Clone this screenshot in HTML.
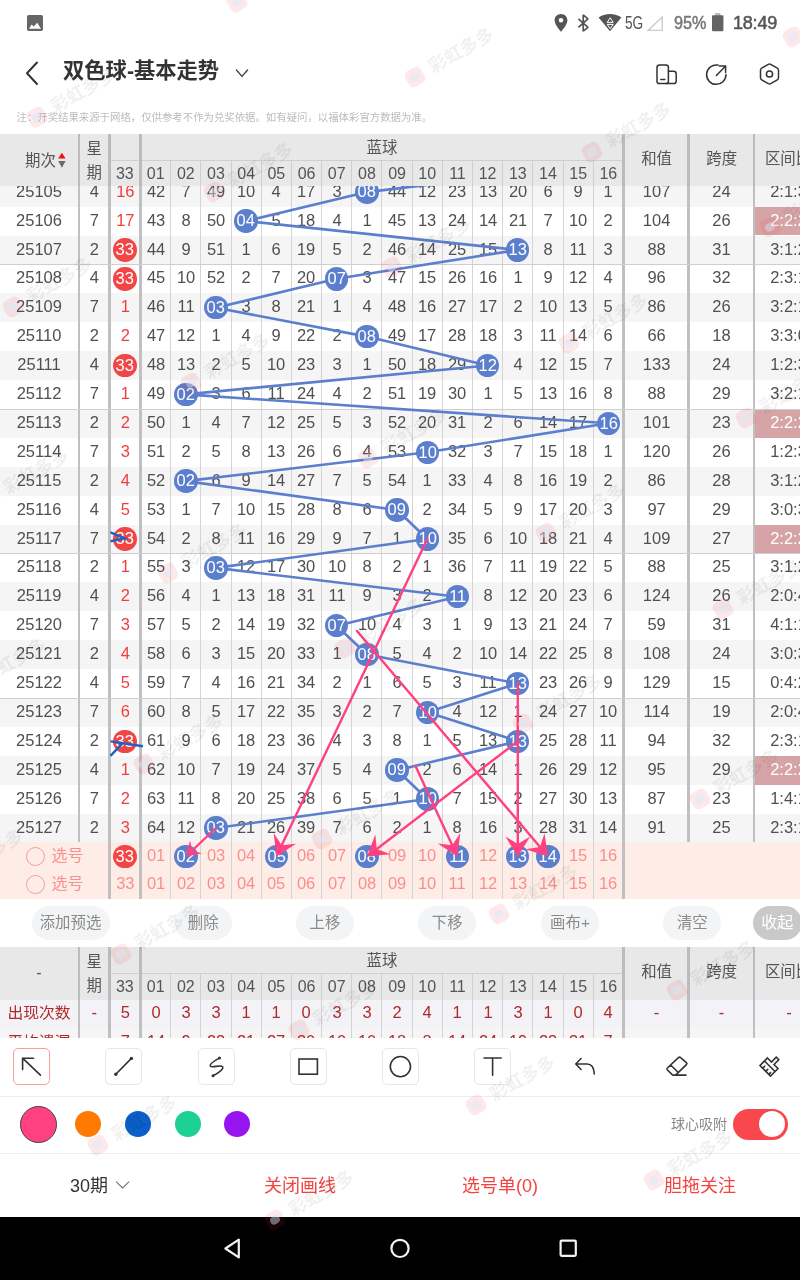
<!DOCTYPE html>
<html lang="zh-CN">
<head>
<meta charset="utf-8">
<title>双色球-基本走势</title>
<style>
html,body{margin:0;padding:0;}
body{width:800px;height:1280px;position:relative;overflow:hidden;background:#fff;
 font-family:"Liberation Sans","Noto Sans CJK SC",sans-serif;color:#555;-webkit-font-smoothing:antialiased;}
.abs{position:absolute;}
.t{position:absolute;white-space:nowrap;text-align:center;line-height:1;}
.c{position:absolute;white-space:nowrap;text-align:center;font-size:16px;line-height:28.9px;height:28.9px;color:#505050;transform:scaleX(1.03);}
.r{color:#f23d3d;}
.row{position:absolute;left:0;width:800px;height:28.9px;}
.g{background:#f5f5f5;}
.vl{position:absolute;width:2.6px;background:#c0c0c0;}
.tl{position:absolute;width:1px;background:#d4d4d4;}
.hl{position:absolute;height:1px;background:#cfcfcf;left:0;width:800px;}
.ball{position:absolute;width:23.4px;height:23.4px;margin:0.3px;border-radius:50%;color:#fff;font-size:16px;line-height:24px;text-align:center;}
.ball span{display:block;transform:scaleX(1.03);}
.bb{background:#5b7fcd;}
.rb{background:#f24545;}
.hd{position:absolute;background:#e8e8e8;}
.hc{position:absolute;white-space:nowrap;text-align:center;font-size:16px;color:#555;line-height:26px;height:26px;}
.hz{font-size:15.4px;}
.sel{color:#fa8f8f;}
.pill{position:absolute;height:34px;border-radius:17px;background:#f3f4f6;color:#8a8a8a;font-size:15.4px;line-height:34px;text-align:center;white-space:nowrap;}
.st{color:#b02a2a;}
.tool{position:absolute;width:35px;height:35px;border:1px solid #e6e6e6;border-radius:5px;top:1048px;}
.tab{position:absolute;top:1153.6px;height:64px;line-height:64px;font-size:18px;color:#f5433f;text-align:center;white-space:nowrap;}
.wm{position:absolute;height:22px;line-height:22px;white-space:nowrap;font-size:18px;font-weight:bold;color:rgba(0,0,0,0.06);transform:rotate(-29.7deg);transform-origin:9px 11px;padding-left:26.5px;}
.wm i{position:absolute;left:0;top:2px;width:18px;height:18px;border-radius:5px;background:rgba(240,40,40,0.10);}
.wm b{position:absolute;left:4px;top:6.5px;width:10px;height:8px;border-radius:4px;background:rgba(215,232,255,0.45);}
</style>
</head>
<body>

<div class="abs" style="left:0;top:0;width:800px;height:48px;background:#fff;"></div>
<svg class="abs" style="left:0;top:0" width="800" height="48" viewBox="0 0 800 48">
<rect x="27" y="15" width="16" height="16" rx="1.8" fill="#666"/>
<path d="M29 28.8 L31.6 24.6 L33.8 26.6 L37.2 22.8 L41 28.8 Z" fill="#fff"/>
<path d="M561 14 C557.4 14 554.6 16.8 554.6 20.3 C554.6 25 561 31.8 561 31.8 C561 31.8 567.4 25 567.4 20.3 C567.4 16.8 564.6 14 561 14 Z M561 22.6 A2.3 2.3 0 1 1 561 18 A2.3 2.3 0 1 1 561 22.6 Z" fill="#555" fill-rule="evenodd"/>
<path d="M578.4 18.8 L588 27.4 L583.2 31.2 L583.2 15 L588 18.8 L578.4 27.4" fill="none" stroke="#555" stroke-width="1.7" stroke-linejoin="bevel"/>
<path d="M610 31.2 L598.6 17.6 C601.6 15.2 605.6 14 610 14 C614.4 14 618.4 15.2 621.4 17.6 Z" fill="#555"/>
<path d="M610.2 17.8 L613.2 22.4 L607.2 22.4 Z M607.2 24.4 L613.2 24.4 L610.2 28.8 Z" fill="none" stroke="#fff" stroke-width="1"/>
<path d="M662.2 17 L662.2 30.4 L648 30.4 Z" fill="none" stroke="#ccc" stroke-width="1.4" stroke-linejoin="miter"/>
<rect x="715" y="13" width="5.4" height="3" fill="#bbb"/>
<rect x="712" y="15.2" width="11.4" height="16" rx="1" fill="#636363"/>
</svg>
<div class="t" style="left:624.6px;top:14px;font-size:18px;color:#555;transform:scaleX(0.76);transform-origin:0 0;">5G</div>
<div class="t" style="left:674px;top:14px;font-size:18px;color:#777;-webkit-text-stroke:0.5px #777;transform:scaleX(0.9);transform-origin:0 0;">95%</div>
<div class="t" style="left:733px;top:14px;font-size:18px;color:#555;-webkit-text-stroke:0.5px #555;letter-spacing:-0.2px;">18:49</div>
<svg class="abs" style="left:0;top:48px" width="800" height="52" viewBox="0 48 800 52">
<path d="M37 62.5 L27 73.2 L37 84" fill="none" stroke="#333" stroke-width="2" stroke-linecap="round" stroke-linejoin="round"/>
<path d="M236.4 70 L242 76.4 L247.6 70" fill="none" stroke="#444" stroke-width="1.4" stroke-linecap="round" stroke-linejoin="round"/>
<g fill="none" stroke="#333" stroke-width="1.5" stroke-linecap="round" stroke-linejoin="round">
<rect x="657" y="65" width="11.4" height="18.6" rx="2.4"/>
<path d="M668.4 71.2 L673.6 71.2 Q676.2 71.2 676.2 73.8 L676.2 81 Q676.2 83.6 673.6 83.6 L666 83.6"/>
<path d="M660.8 79.4 L664.8 79.4"/>
<path d="M718 65.1 A9.7 9.7 0 1 0 726 74.6"/>
<path d="M716.4 75.4 L725.4 66.2 M719.2 66 L725.6 66 L725.6 72.4"/>
<path d="M768.3 64.3 Q769.5 63.6 770.7 64.3 L777.3 68.1 Q778.5 68.8 778.5 70.2 L778.5 77.8 Q778.5 79.2 777.3 79.9 L770.7 83.7 Q769.5 84.4 768.3 83.7 L761.7 79.9 Q760.5 79.2 760.5 77.8 L760.5 70.2 Q760.5 68.8 761.7 68.1 Z"/>
<circle cx="769.5" cy="74" r="3.1"/>
</g>
</svg>
<div class="t" style="left:63px;top:61px;font-size:21.3px;font-weight:bold;color:#333;text-align:left;">双色球-基本走势</div>
<div class="t" style="left:16.5px;top:113px;font-size:10.4px;color:#bcbcbc;text-align:left;">注：开奖结果来源于网络，仅供参考不作为兑奖依据。如有疑问，以福体彩官方数据为准。</div>
<div class="abs" id="tbl" style="left:0;top:134px;width:800px;height:766px;overflow:hidden;">
<div class="row g" style="top:43.70px"></div>
<div class="row" style="top:72.60px"></div>
<div class="row g" style="top:101.50px"></div>
<div class="row" style="top:130.40px"></div>
<div class="row g" style="top:159.30px"></div>
<div class="row" style="top:188.20px"></div>
<div class="row g" style="top:217.10px"></div>
<div class="row" style="top:246.00px"></div>
<div class="row g" style="top:274.90px"></div>
<div class="row" style="top:303.80px"></div>
<div class="row g" style="top:332.70px"></div>
<div class="row" style="top:361.60px"></div>
<div class="row g" style="top:390.50px"></div>
<div class="row" style="top:419.40px"></div>
<div class="row g" style="top:448.30px"></div>
<div class="row" style="top:477.20px"></div>
<div class="row g" style="top:506.10px"></div>
<div class="row" style="top:535.00px"></div>
<div class="row g" style="top:563.90px"></div>
<div class="row" style="top:592.80px"></div>
<div class="row g" style="top:621.70px"></div>
<div class="row" style="top:650.60px"></div>
<div class="row g" style="top:679.50px"></div>
<div class="abs" style="left:0;top:708.40px;width:800px;height:56.40px;background:#feede7;"></div>
<div class="tl" style="left:170.23px;top:0;height:764.80px"></div>
<div class="tl" style="left:200.41px;top:0;height:764.80px"></div>
<div class="tl" style="left:230.59px;top:0;height:764.80px"></div>
<div class="tl" style="left:260.77px;top:0;height:764.80px"></div>
<div class="tl" style="left:290.95px;top:0;height:764.80px"></div>
<div class="tl" style="left:321.13px;top:0;height:764.80px"></div>
<div class="tl" style="left:351.31px;top:0;height:764.80px"></div>
<div class="tl" style="left:381.49px;top:0;height:764.80px"></div>
<div class="tl" style="left:411.67px;top:0;height:764.80px"></div>
<div class="tl" style="left:441.85px;top:0;height:764.80px"></div>
<div class="tl" style="left:472.03px;top:0;height:764.80px"></div>
<div class="tl" style="left:502.21px;top:0;height:764.80px"></div>
<div class="tl" style="left:532.39px;top:0;height:764.80px"></div>
<div class="tl" style="left:562.57px;top:0;height:764.80px"></div>
<div class="tl" style="left:592.75px;top:0;height:764.80px"></div>
<div class="vl" style="left:77.5px;top:0;height:708.40px"></div>
<div class="vl" style="left:108.0px;top:0;height:764.80px"></div>
<div class="vl" style="left:139.0px;top:0;height:764.80px"></div>
<div class="vl" style="left:622.2px;top:0;height:764.80px"></div>
<div class="vl" style="left:687.4px;top:0;height:708.40px"></div>
<div class="vl" style="left:752.8px;top:0;height:708.40px"></div>
<div class="c " style="left:0.00px;width:78.00px;top:43.70px">25105</div>
<div class="c " style="left:80.00px;width:28.50px;top:43.70px">4</div>
<div class="c r" style="left:110.50px;width:28.70px;top:43.70px">16</div>
<div class="c " style="left:140.55px;width:30.18px;top:43.70px">42</div>
<div class="c " style="left:170.73px;width:30.18px;top:43.70px">7</div>
<div class="c " style="left:200.91px;width:30.18px;top:43.70px">49</div>
<div class="c " style="left:231.09px;width:30.18px;top:43.70px">10</div>
<div class="c " style="left:261.27px;width:30.18px;top:43.70px">4</div>
<div class="c " style="left:291.45px;width:30.18px;top:43.70px">17</div>
<div class="c " style="left:321.63px;width:30.18px;top:43.70px">3</div>
<div class="c " style="left:381.99px;width:30.18px;top:43.70px">44</div>
<div class="c " style="left:412.17px;width:30.18px;top:43.70px">12</div>
<div class="c " style="left:442.35px;width:30.18px;top:43.70px">23</div>
<div class="c " style="left:472.53px;width:30.18px;top:43.70px">13</div>
<div class="c " style="left:502.71px;width:30.18px;top:43.70px">20</div>
<div class="c " style="left:532.89px;width:30.18px;top:43.70px">6</div>
<div class="c " style="left:563.07px;width:30.18px;top:43.70px">9</div>
<div class="c " style="left:593.25px;width:30.18px;top:43.70px">1</div>
<div class="c " style="left:625.00px;width:63.20px;top:43.70px">107</div>
<div class="c " style="left:690.20px;width:63.00px;top:43.70px">24</div>
<div class="c " style="left:755.40px;width:67.00px;top:43.70px">2:1:3</div>
<div class="c " style="left:0.00px;width:78.00px;top:72.60px">25106</div>
<div class="c " style="left:80.00px;width:28.50px;top:72.60px">7</div>
<div class="c r" style="left:110.50px;width:28.70px;top:72.60px">17</div>
<div class="c " style="left:140.55px;width:30.18px;top:72.60px">43</div>
<div class="c " style="left:170.73px;width:30.18px;top:72.60px">8</div>
<div class="c " style="left:200.91px;width:30.18px;top:72.60px">50</div>
<div class="c " style="left:261.27px;width:30.18px;top:72.60px">5</div>
<div class="c " style="left:291.45px;width:30.18px;top:72.60px">18</div>
<div class="c " style="left:321.63px;width:30.18px;top:72.60px">4</div>
<div class="c " style="left:351.81px;width:30.18px;top:72.60px">1</div>
<div class="c " style="left:381.99px;width:30.18px;top:72.60px">45</div>
<div class="c " style="left:412.17px;width:30.18px;top:72.60px">13</div>
<div class="c " style="left:442.35px;width:30.18px;top:72.60px">24</div>
<div class="c " style="left:472.53px;width:30.18px;top:72.60px">14</div>
<div class="c " style="left:502.71px;width:30.18px;top:72.60px">21</div>
<div class="c " style="left:532.89px;width:30.18px;top:72.60px">7</div>
<div class="c " style="left:563.07px;width:30.18px;top:72.60px">10</div>
<div class="c " style="left:593.25px;width:30.18px;top:72.60px">2</div>
<div class="c " style="left:625.00px;width:63.20px;top:72.60px">104</div>
<div class="c " style="left:690.20px;width:63.00px;top:72.60px">26</div>
<div class="abs" style="left:755.2px;top:72.60px;width:50px;height:28.90px;background:#d6a4a6;"></div>
<div class="c" style="color:#fff;left:755.40px;width:67.00px;top:72.60px">2:2:2</div>
<div class="c " style="left:0.00px;width:78.00px;top:101.50px">25107</div>
<div class="c " style="left:80.00px;width:28.50px;top:101.50px">2</div>
<div class="c " style="left:140.55px;width:30.18px;top:101.50px">44</div>
<div class="c " style="left:170.73px;width:30.18px;top:101.50px">9</div>
<div class="c " style="left:200.91px;width:30.18px;top:101.50px">51</div>
<div class="c " style="left:231.09px;width:30.18px;top:101.50px">1</div>
<div class="c " style="left:261.27px;width:30.18px;top:101.50px">6</div>
<div class="c " style="left:291.45px;width:30.18px;top:101.50px">19</div>
<div class="c " style="left:321.63px;width:30.18px;top:101.50px">5</div>
<div class="c " style="left:351.81px;width:30.18px;top:101.50px">2</div>
<div class="c " style="left:381.99px;width:30.18px;top:101.50px">46</div>
<div class="c " style="left:412.17px;width:30.18px;top:101.50px">14</div>
<div class="c " style="left:442.35px;width:30.18px;top:101.50px">25</div>
<div class="c " style="left:472.53px;width:30.18px;top:101.50px">15</div>
<div class="c " style="left:532.89px;width:30.18px;top:101.50px">8</div>
<div class="c " style="left:563.07px;width:30.18px;top:101.50px">11</div>
<div class="c " style="left:593.25px;width:30.18px;top:101.50px">3</div>
<div class="c " style="left:625.00px;width:63.20px;top:101.50px">88</div>
<div class="c " style="left:690.20px;width:63.00px;top:101.50px">31</div>
<div class="c " style="left:755.40px;width:67.00px;top:101.50px">3:1:2</div>
<div class="c " style="left:0.00px;width:78.00px;top:130.40px">25108</div>
<div class="c " style="left:80.00px;width:28.50px;top:130.40px">4</div>
<div class="c " style="left:140.55px;width:30.18px;top:130.40px">45</div>
<div class="c " style="left:170.73px;width:30.18px;top:130.40px">10</div>
<div class="c " style="left:200.91px;width:30.18px;top:130.40px">52</div>
<div class="c " style="left:231.09px;width:30.18px;top:130.40px">2</div>
<div class="c " style="left:261.27px;width:30.18px;top:130.40px">7</div>
<div class="c " style="left:291.45px;width:30.18px;top:130.40px">20</div>
<div class="c " style="left:351.81px;width:30.18px;top:130.40px">3</div>
<div class="c " style="left:381.99px;width:30.18px;top:130.40px">47</div>
<div class="c " style="left:412.17px;width:30.18px;top:130.40px">15</div>
<div class="c " style="left:442.35px;width:30.18px;top:130.40px">26</div>
<div class="c " style="left:472.53px;width:30.18px;top:130.40px">16</div>
<div class="c " style="left:502.71px;width:30.18px;top:130.40px">1</div>
<div class="c " style="left:532.89px;width:30.18px;top:130.40px">9</div>
<div class="c " style="left:563.07px;width:30.18px;top:130.40px">12</div>
<div class="c " style="left:593.25px;width:30.18px;top:130.40px">4</div>
<div class="c " style="left:625.00px;width:63.20px;top:130.40px">96</div>
<div class="c " style="left:690.20px;width:63.00px;top:130.40px">32</div>
<div class="c " style="left:755.40px;width:67.00px;top:130.40px">2:3:1</div>
<div class="c " style="left:0.00px;width:78.00px;top:159.30px">25109</div>
<div class="c " style="left:80.00px;width:28.50px;top:159.30px">7</div>
<div class="c r" style="left:110.50px;width:28.70px;top:159.30px">1</div>
<div class="c " style="left:140.55px;width:30.18px;top:159.30px">46</div>
<div class="c " style="left:170.73px;width:30.18px;top:159.30px">11</div>
<div class="c " style="left:231.09px;width:30.18px;top:159.30px">3</div>
<div class="c " style="left:261.27px;width:30.18px;top:159.30px">8</div>
<div class="c " style="left:291.45px;width:30.18px;top:159.30px">21</div>
<div class="c " style="left:321.63px;width:30.18px;top:159.30px">1</div>
<div class="c " style="left:351.81px;width:30.18px;top:159.30px">4</div>
<div class="c " style="left:381.99px;width:30.18px;top:159.30px">48</div>
<div class="c " style="left:412.17px;width:30.18px;top:159.30px">16</div>
<div class="c " style="left:442.35px;width:30.18px;top:159.30px">27</div>
<div class="c " style="left:472.53px;width:30.18px;top:159.30px">17</div>
<div class="c " style="left:502.71px;width:30.18px;top:159.30px">2</div>
<div class="c " style="left:532.89px;width:30.18px;top:159.30px">10</div>
<div class="c " style="left:563.07px;width:30.18px;top:159.30px">13</div>
<div class="c " style="left:593.25px;width:30.18px;top:159.30px">5</div>
<div class="c " style="left:625.00px;width:63.20px;top:159.30px">86</div>
<div class="c " style="left:690.20px;width:63.00px;top:159.30px">26</div>
<div class="c " style="left:755.40px;width:67.00px;top:159.30px">3:2:1</div>
<div class="c " style="left:0.00px;width:78.00px;top:188.20px">25110</div>
<div class="c " style="left:80.00px;width:28.50px;top:188.20px">2</div>
<div class="c r" style="left:110.50px;width:28.70px;top:188.20px">2</div>
<div class="c " style="left:140.55px;width:30.18px;top:188.20px">47</div>
<div class="c " style="left:170.73px;width:30.18px;top:188.20px">12</div>
<div class="c " style="left:200.91px;width:30.18px;top:188.20px">1</div>
<div class="c " style="left:231.09px;width:30.18px;top:188.20px">4</div>
<div class="c " style="left:261.27px;width:30.18px;top:188.20px">9</div>
<div class="c " style="left:291.45px;width:30.18px;top:188.20px">22</div>
<div class="c " style="left:321.63px;width:30.18px;top:188.20px">2</div>
<div class="c " style="left:381.99px;width:30.18px;top:188.20px">49</div>
<div class="c " style="left:412.17px;width:30.18px;top:188.20px">17</div>
<div class="c " style="left:442.35px;width:30.18px;top:188.20px">28</div>
<div class="c " style="left:472.53px;width:30.18px;top:188.20px">18</div>
<div class="c " style="left:502.71px;width:30.18px;top:188.20px">3</div>
<div class="c " style="left:532.89px;width:30.18px;top:188.20px">11</div>
<div class="c " style="left:563.07px;width:30.18px;top:188.20px">14</div>
<div class="c " style="left:593.25px;width:30.18px;top:188.20px">6</div>
<div class="c " style="left:625.00px;width:63.20px;top:188.20px">66</div>
<div class="c " style="left:690.20px;width:63.00px;top:188.20px">18</div>
<div class="c " style="left:755.40px;width:67.00px;top:188.20px">3:3:0</div>
<div class="c " style="left:0.00px;width:78.00px;top:217.10px">25111</div>
<div class="c " style="left:80.00px;width:28.50px;top:217.10px">4</div>
<div class="c " style="left:140.55px;width:30.18px;top:217.10px">48</div>
<div class="c " style="left:170.73px;width:30.18px;top:217.10px">13</div>
<div class="c " style="left:200.91px;width:30.18px;top:217.10px">2</div>
<div class="c " style="left:231.09px;width:30.18px;top:217.10px">5</div>
<div class="c " style="left:261.27px;width:30.18px;top:217.10px">10</div>
<div class="c " style="left:291.45px;width:30.18px;top:217.10px">23</div>
<div class="c " style="left:321.63px;width:30.18px;top:217.10px">3</div>
<div class="c " style="left:351.81px;width:30.18px;top:217.10px">1</div>
<div class="c " style="left:381.99px;width:30.18px;top:217.10px">50</div>
<div class="c " style="left:412.17px;width:30.18px;top:217.10px">18</div>
<div class="c " style="left:442.35px;width:30.18px;top:217.10px">29</div>
<div class="c " style="left:502.71px;width:30.18px;top:217.10px">4</div>
<div class="c " style="left:532.89px;width:30.18px;top:217.10px">12</div>
<div class="c " style="left:563.07px;width:30.18px;top:217.10px">15</div>
<div class="c " style="left:593.25px;width:30.18px;top:217.10px">7</div>
<div class="c " style="left:625.00px;width:63.20px;top:217.10px">133</div>
<div class="c " style="left:690.20px;width:63.00px;top:217.10px">24</div>
<div class="c " style="left:755.40px;width:67.00px;top:217.10px">1:2:3</div>
<div class="c " style="left:0.00px;width:78.00px;top:246.00px">25112</div>
<div class="c " style="left:80.00px;width:28.50px;top:246.00px">7</div>
<div class="c r" style="left:110.50px;width:28.70px;top:246.00px">1</div>
<div class="c " style="left:140.55px;width:30.18px;top:246.00px">49</div>
<div class="c " style="left:200.91px;width:30.18px;top:246.00px">3</div>
<div class="c " style="left:231.09px;width:30.18px;top:246.00px">6</div>
<div class="c " style="left:261.27px;width:30.18px;top:246.00px">11</div>
<div class="c " style="left:291.45px;width:30.18px;top:246.00px">24</div>
<div class="c " style="left:321.63px;width:30.18px;top:246.00px">4</div>
<div class="c " style="left:351.81px;width:30.18px;top:246.00px">2</div>
<div class="c " style="left:381.99px;width:30.18px;top:246.00px">51</div>
<div class="c " style="left:412.17px;width:30.18px;top:246.00px">19</div>
<div class="c " style="left:442.35px;width:30.18px;top:246.00px">30</div>
<div class="c " style="left:472.53px;width:30.18px;top:246.00px">1</div>
<div class="c " style="left:502.71px;width:30.18px;top:246.00px">5</div>
<div class="c " style="left:532.89px;width:30.18px;top:246.00px">13</div>
<div class="c " style="left:563.07px;width:30.18px;top:246.00px">16</div>
<div class="c " style="left:593.25px;width:30.18px;top:246.00px">8</div>
<div class="c " style="left:625.00px;width:63.20px;top:246.00px">88</div>
<div class="c " style="left:690.20px;width:63.00px;top:246.00px">29</div>
<div class="c " style="left:755.40px;width:67.00px;top:246.00px">3:2:1</div>
<div class="c " style="left:0.00px;width:78.00px;top:274.90px">25113</div>
<div class="c " style="left:80.00px;width:28.50px;top:274.90px">2</div>
<div class="c r" style="left:110.50px;width:28.70px;top:274.90px">2</div>
<div class="c " style="left:140.55px;width:30.18px;top:274.90px">50</div>
<div class="c " style="left:170.73px;width:30.18px;top:274.90px">1</div>
<div class="c " style="left:200.91px;width:30.18px;top:274.90px">4</div>
<div class="c " style="left:231.09px;width:30.18px;top:274.90px">7</div>
<div class="c " style="left:261.27px;width:30.18px;top:274.90px">12</div>
<div class="c " style="left:291.45px;width:30.18px;top:274.90px">25</div>
<div class="c " style="left:321.63px;width:30.18px;top:274.90px">5</div>
<div class="c " style="left:351.81px;width:30.18px;top:274.90px">3</div>
<div class="c " style="left:381.99px;width:30.18px;top:274.90px">52</div>
<div class="c " style="left:412.17px;width:30.18px;top:274.90px">20</div>
<div class="c " style="left:442.35px;width:30.18px;top:274.90px">31</div>
<div class="c " style="left:472.53px;width:30.18px;top:274.90px">2</div>
<div class="c " style="left:502.71px;width:30.18px;top:274.90px">6</div>
<div class="c " style="left:532.89px;width:30.18px;top:274.90px">14</div>
<div class="c " style="left:563.07px;width:30.18px;top:274.90px">17</div>
<div class="c " style="left:625.00px;width:63.20px;top:274.90px">101</div>
<div class="c " style="left:690.20px;width:63.00px;top:274.90px">23</div>
<div class="abs" style="left:755.2px;top:274.90px;width:50px;height:28.90px;background:#d6a4a6;"></div>
<div class="c" style="color:#fff;left:755.40px;width:67.00px;top:274.90px">2:2:2</div>
<div class="c " style="left:0.00px;width:78.00px;top:303.80px">25114</div>
<div class="c " style="left:80.00px;width:28.50px;top:303.80px">7</div>
<div class="c r" style="left:110.50px;width:28.70px;top:303.80px">3</div>
<div class="c " style="left:140.55px;width:30.18px;top:303.80px">51</div>
<div class="c " style="left:170.73px;width:30.18px;top:303.80px">2</div>
<div class="c " style="left:200.91px;width:30.18px;top:303.80px">5</div>
<div class="c " style="left:231.09px;width:30.18px;top:303.80px">8</div>
<div class="c " style="left:261.27px;width:30.18px;top:303.80px">13</div>
<div class="c " style="left:291.45px;width:30.18px;top:303.80px">26</div>
<div class="c " style="left:321.63px;width:30.18px;top:303.80px">6</div>
<div class="c " style="left:351.81px;width:30.18px;top:303.80px">4</div>
<div class="c " style="left:381.99px;width:30.18px;top:303.80px">53</div>
<div class="c " style="left:442.35px;width:30.18px;top:303.80px">32</div>
<div class="c " style="left:472.53px;width:30.18px;top:303.80px">3</div>
<div class="c " style="left:502.71px;width:30.18px;top:303.80px">7</div>
<div class="c " style="left:532.89px;width:30.18px;top:303.80px">15</div>
<div class="c " style="left:563.07px;width:30.18px;top:303.80px">18</div>
<div class="c " style="left:593.25px;width:30.18px;top:303.80px">1</div>
<div class="c " style="left:625.00px;width:63.20px;top:303.80px">120</div>
<div class="c " style="left:690.20px;width:63.00px;top:303.80px">26</div>
<div class="c " style="left:755.40px;width:67.00px;top:303.80px">1:2:3</div>
<div class="c " style="left:0.00px;width:78.00px;top:332.70px">25115</div>
<div class="c " style="left:80.00px;width:28.50px;top:332.70px">2</div>
<div class="c r" style="left:110.50px;width:28.70px;top:332.70px">4</div>
<div class="c " style="left:140.55px;width:30.18px;top:332.70px">52</div>
<div class="c " style="left:200.91px;width:30.18px;top:332.70px">6</div>
<div class="c " style="left:231.09px;width:30.18px;top:332.70px">9</div>
<div class="c " style="left:261.27px;width:30.18px;top:332.70px">14</div>
<div class="c " style="left:291.45px;width:30.18px;top:332.70px">27</div>
<div class="c " style="left:321.63px;width:30.18px;top:332.70px">7</div>
<div class="c " style="left:351.81px;width:30.18px;top:332.70px">5</div>
<div class="c " style="left:381.99px;width:30.18px;top:332.70px">54</div>
<div class="c " style="left:412.17px;width:30.18px;top:332.70px">1</div>
<div class="c " style="left:442.35px;width:30.18px;top:332.70px">33</div>
<div class="c " style="left:472.53px;width:30.18px;top:332.70px">4</div>
<div class="c " style="left:502.71px;width:30.18px;top:332.70px">8</div>
<div class="c " style="left:532.89px;width:30.18px;top:332.70px">16</div>
<div class="c " style="left:563.07px;width:30.18px;top:332.70px">19</div>
<div class="c " style="left:593.25px;width:30.18px;top:332.70px">2</div>
<div class="c " style="left:625.00px;width:63.20px;top:332.70px">86</div>
<div class="c " style="left:690.20px;width:63.00px;top:332.70px">28</div>
<div class="c " style="left:755.40px;width:67.00px;top:332.70px">3:1:2</div>
<div class="c " style="left:0.00px;width:78.00px;top:361.60px">25116</div>
<div class="c " style="left:80.00px;width:28.50px;top:361.60px">4</div>
<div class="c r" style="left:110.50px;width:28.70px;top:361.60px">5</div>
<div class="c " style="left:140.55px;width:30.18px;top:361.60px">53</div>
<div class="c " style="left:170.73px;width:30.18px;top:361.60px">1</div>
<div class="c " style="left:200.91px;width:30.18px;top:361.60px">7</div>
<div class="c " style="left:231.09px;width:30.18px;top:361.60px">10</div>
<div class="c " style="left:261.27px;width:30.18px;top:361.60px">15</div>
<div class="c " style="left:291.45px;width:30.18px;top:361.60px">28</div>
<div class="c " style="left:321.63px;width:30.18px;top:361.60px">8</div>
<div class="c " style="left:351.81px;width:30.18px;top:361.60px">6</div>
<div class="c " style="left:412.17px;width:30.18px;top:361.60px">2</div>
<div class="c " style="left:442.35px;width:30.18px;top:361.60px">34</div>
<div class="c " style="left:472.53px;width:30.18px;top:361.60px">5</div>
<div class="c " style="left:502.71px;width:30.18px;top:361.60px">9</div>
<div class="c " style="left:532.89px;width:30.18px;top:361.60px">17</div>
<div class="c " style="left:563.07px;width:30.18px;top:361.60px">20</div>
<div class="c " style="left:593.25px;width:30.18px;top:361.60px">3</div>
<div class="c " style="left:625.00px;width:63.20px;top:361.60px">97</div>
<div class="c " style="left:690.20px;width:63.00px;top:361.60px">29</div>
<div class="c " style="left:755.40px;width:67.00px;top:361.60px">3:0:3</div>
<div class="c " style="left:0.00px;width:78.00px;top:390.50px">25117</div>
<div class="c " style="left:80.00px;width:28.50px;top:390.50px">7</div>
<div class="c " style="left:140.55px;width:30.18px;top:390.50px">54</div>
<div class="c " style="left:170.73px;width:30.18px;top:390.50px">2</div>
<div class="c " style="left:200.91px;width:30.18px;top:390.50px">8</div>
<div class="c " style="left:231.09px;width:30.18px;top:390.50px">11</div>
<div class="c " style="left:261.27px;width:30.18px;top:390.50px">16</div>
<div class="c " style="left:291.45px;width:30.18px;top:390.50px">29</div>
<div class="c " style="left:321.63px;width:30.18px;top:390.50px">9</div>
<div class="c " style="left:351.81px;width:30.18px;top:390.50px">7</div>
<div class="c " style="left:381.99px;width:30.18px;top:390.50px">1</div>
<div class="c " style="left:442.35px;width:30.18px;top:390.50px">35</div>
<div class="c " style="left:472.53px;width:30.18px;top:390.50px">6</div>
<div class="c " style="left:502.71px;width:30.18px;top:390.50px">10</div>
<div class="c " style="left:532.89px;width:30.18px;top:390.50px">18</div>
<div class="c " style="left:563.07px;width:30.18px;top:390.50px">21</div>
<div class="c " style="left:593.25px;width:30.18px;top:390.50px">4</div>
<div class="c " style="left:625.00px;width:63.20px;top:390.50px">109</div>
<div class="c " style="left:690.20px;width:63.00px;top:390.50px">27</div>
<div class="abs" style="left:755.2px;top:390.50px;width:50px;height:28.90px;background:#d6a4a6;"></div>
<div class="c" style="color:#fff;left:755.40px;width:67.00px;top:390.50px">2:2:2</div>
<div class="c " style="left:0.00px;width:78.00px;top:419.40px">25118</div>
<div class="c " style="left:80.00px;width:28.50px;top:419.40px">2</div>
<div class="c r" style="left:110.50px;width:28.70px;top:419.40px">1</div>
<div class="c " style="left:140.55px;width:30.18px;top:419.40px">55</div>
<div class="c " style="left:170.73px;width:30.18px;top:419.40px">3</div>
<div class="c " style="left:231.09px;width:30.18px;top:419.40px">12</div>
<div class="c " style="left:261.27px;width:30.18px;top:419.40px">17</div>
<div class="c " style="left:291.45px;width:30.18px;top:419.40px">30</div>
<div class="c " style="left:321.63px;width:30.18px;top:419.40px">10</div>
<div class="c " style="left:351.81px;width:30.18px;top:419.40px">8</div>
<div class="c " style="left:381.99px;width:30.18px;top:419.40px">2</div>
<div class="c " style="left:412.17px;width:30.18px;top:419.40px">1</div>
<div class="c " style="left:442.35px;width:30.18px;top:419.40px">36</div>
<div class="c " style="left:472.53px;width:30.18px;top:419.40px">7</div>
<div class="c " style="left:502.71px;width:30.18px;top:419.40px">11</div>
<div class="c " style="left:532.89px;width:30.18px;top:419.40px">19</div>
<div class="c " style="left:563.07px;width:30.18px;top:419.40px">22</div>
<div class="c " style="left:593.25px;width:30.18px;top:419.40px">5</div>
<div class="c " style="left:625.00px;width:63.20px;top:419.40px">88</div>
<div class="c " style="left:690.20px;width:63.00px;top:419.40px">25</div>
<div class="c " style="left:755.40px;width:67.00px;top:419.40px">3:1:2</div>
<div class="c " style="left:0.00px;width:78.00px;top:448.30px">25119</div>
<div class="c " style="left:80.00px;width:28.50px;top:448.30px">4</div>
<div class="c r" style="left:110.50px;width:28.70px;top:448.30px">2</div>
<div class="c " style="left:140.55px;width:30.18px;top:448.30px">56</div>
<div class="c " style="left:170.73px;width:30.18px;top:448.30px">4</div>
<div class="c " style="left:200.91px;width:30.18px;top:448.30px">1</div>
<div class="c " style="left:231.09px;width:30.18px;top:448.30px">13</div>
<div class="c " style="left:261.27px;width:30.18px;top:448.30px">18</div>
<div class="c " style="left:291.45px;width:30.18px;top:448.30px">31</div>
<div class="c " style="left:321.63px;width:30.18px;top:448.30px">11</div>
<div class="c " style="left:351.81px;width:30.18px;top:448.30px">9</div>
<div class="c " style="left:381.99px;width:30.18px;top:448.30px">3</div>
<div class="c " style="left:412.17px;width:30.18px;top:448.30px">2</div>
<div class="c " style="left:472.53px;width:30.18px;top:448.30px">8</div>
<div class="c " style="left:502.71px;width:30.18px;top:448.30px">12</div>
<div class="c " style="left:532.89px;width:30.18px;top:448.30px">20</div>
<div class="c " style="left:563.07px;width:30.18px;top:448.30px">23</div>
<div class="c " style="left:593.25px;width:30.18px;top:448.30px">6</div>
<div class="c " style="left:625.00px;width:63.20px;top:448.30px">124</div>
<div class="c " style="left:690.20px;width:63.00px;top:448.30px">26</div>
<div class="c " style="left:755.40px;width:67.00px;top:448.30px">2:0:4</div>
<div class="c " style="left:0.00px;width:78.00px;top:477.20px">25120</div>
<div class="c " style="left:80.00px;width:28.50px;top:477.20px">7</div>
<div class="c r" style="left:110.50px;width:28.70px;top:477.20px">3</div>
<div class="c " style="left:140.55px;width:30.18px;top:477.20px">57</div>
<div class="c " style="left:170.73px;width:30.18px;top:477.20px">5</div>
<div class="c " style="left:200.91px;width:30.18px;top:477.20px">2</div>
<div class="c " style="left:231.09px;width:30.18px;top:477.20px">14</div>
<div class="c " style="left:261.27px;width:30.18px;top:477.20px">19</div>
<div class="c " style="left:291.45px;width:30.18px;top:477.20px">32</div>
<div class="c " style="left:351.81px;width:30.18px;top:477.20px">10</div>
<div class="c " style="left:381.99px;width:30.18px;top:477.20px">4</div>
<div class="c " style="left:412.17px;width:30.18px;top:477.20px">3</div>
<div class="c " style="left:442.35px;width:30.18px;top:477.20px">1</div>
<div class="c " style="left:472.53px;width:30.18px;top:477.20px">9</div>
<div class="c " style="left:502.71px;width:30.18px;top:477.20px">13</div>
<div class="c " style="left:532.89px;width:30.18px;top:477.20px">21</div>
<div class="c " style="left:563.07px;width:30.18px;top:477.20px">24</div>
<div class="c " style="left:593.25px;width:30.18px;top:477.20px">7</div>
<div class="c " style="left:625.00px;width:63.20px;top:477.20px">59</div>
<div class="c " style="left:690.20px;width:63.00px;top:477.20px">31</div>
<div class="c " style="left:755.40px;width:67.00px;top:477.20px">4:1:1</div>
<div class="c " style="left:0.00px;width:78.00px;top:506.10px">25121</div>
<div class="c " style="left:80.00px;width:28.50px;top:506.10px">2</div>
<div class="c r" style="left:110.50px;width:28.70px;top:506.10px">4</div>
<div class="c " style="left:140.55px;width:30.18px;top:506.10px">58</div>
<div class="c " style="left:170.73px;width:30.18px;top:506.10px">6</div>
<div class="c " style="left:200.91px;width:30.18px;top:506.10px">3</div>
<div class="c " style="left:231.09px;width:30.18px;top:506.10px">15</div>
<div class="c " style="left:261.27px;width:30.18px;top:506.10px">20</div>
<div class="c " style="left:291.45px;width:30.18px;top:506.10px">33</div>
<div class="c " style="left:321.63px;width:30.18px;top:506.10px">1</div>
<div class="c " style="left:381.99px;width:30.18px;top:506.10px">5</div>
<div class="c " style="left:412.17px;width:30.18px;top:506.10px">4</div>
<div class="c " style="left:442.35px;width:30.18px;top:506.10px">2</div>
<div class="c " style="left:472.53px;width:30.18px;top:506.10px">10</div>
<div class="c " style="left:502.71px;width:30.18px;top:506.10px">14</div>
<div class="c " style="left:532.89px;width:30.18px;top:506.10px">22</div>
<div class="c " style="left:563.07px;width:30.18px;top:506.10px">25</div>
<div class="c " style="left:593.25px;width:30.18px;top:506.10px">8</div>
<div class="c " style="left:625.00px;width:63.20px;top:506.10px">108</div>
<div class="c " style="left:690.20px;width:63.00px;top:506.10px">24</div>
<div class="c " style="left:755.40px;width:67.00px;top:506.10px">3:0:3</div>
<div class="c " style="left:0.00px;width:78.00px;top:535.00px">25122</div>
<div class="c " style="left:80.00px;width:28.50px;top:535.00px">4</div>
<div class="c r" style="left:110.50px;width:28.70px;top:535.00px">5</div>
<div class="c " style="left:140.55px;width:30.18px;top:535.00px">59</div>
<div class="c " style="left:170.73px;width:30.18px;top:535.00px">7</div>
<div class="c " style="left:200.91px;width:30.18px;top:535.00px">4</div>
<div class="c " style="left:231.09px;width:30.18px;top:535.00px">16</div>
<div class="c " style="left:261.27px;width:30.18px;top:535.00px">21</div>
<div class="c " style="left:291.45px;width:30.18px;top:535.00px">34</div>
<div class="c " style="left:321.63px;width:30.18px;top:535.00px">2</div>
<div class="c " style="left:351.81px;width:30.18px;top:535.00px">1</div>
<div class="c " style="left:381.99px;width:30.18px;top:535.00px">6</div>
<div class="c " style="left:412.17px;width:30.18px;top:535.00px">5</div>
<div class="c " style="left:442.35px;width:30.18px;top:535.00px">3</div>
<div class="c " style="left:472.53px;width:30.18px;top:535.00px">11</div>
<div class="c " style="left:532.89px;width:30.18px;top:535.00px">23</div>
<div class="c " style="left:563.07px;width:30.18px;top:535.00px">26</div>
<div class="c " style="left:593.25px;width:30.18px;top:535.00px">9</div>
<div class="c " style="left:625.00px;width:63.20px;top:535.00px">129</div>
<div class="c " style="left:690.20px;width:63.00px;top:535.00px">15</div>
<div class="c " style="left:755.40px;width:67.00px;top:535.00px">0:4:2</div>
<div class="c " style="left:0.00px;width:78.00px;top:563.90px">25123</div>
<div class="c " style="left:80.00px;width:28.50px;top:563.90px">7</div>
<div class="c r" style="left:110.50px;width:28.70px;top:563.90px">6</div>
<div class="c " style="left:140.55px;width:30.18px;top:563.90px">60</div>
<div class="c " style="left:170.73px;width:30.18px;top:563.90px">8</div>
<div class="c " style="left:200.91px;width:30.18px;top:563.90px">5</div>
<div class="c " style="left:231.09px;width:30.18px;top:563.90px">17</div>
<div class="c " style="left:261.27px;width:30.18px;top:563.90px">22</div>
<div class="c " style="left:291.45px;width:30.18px;top:563.90px">35</div>
<div class="c " style="left:321.63px;width:30.18px;top:563.90px">3</div>
<div class="c " style="left:351.81px;width:30.18px;top:563.90px">2</div>
<div class="c " style="left:381.99px;width:30.18px;top:563.90px">7</div>
<div class="c " style="left:442.35px;width:30.18px;top:563.90px">4</div>
<div class="c " style="left:472.53px;width:30.18px;top:563.90px">12</div>
<div class="c " style="left:502.71px;width:30.18px;top:563.90px">1</div>
<div class="c " style="left:532.89px;width:30.18px;top:563.90px">24</div>
<div class="c " style="left:563.07px;width:30.18px;top:563.90px">27</div>
<div class="c " style="left:593.25px;width:30.18px;top:563.90px">10</div>
<div class="c " style="left:625.00px;width:63.20px;top:563.90px">114</div>
<div class="c " style="left:690.20px;width:63.00px;top:563.90px">19</div>
<div class="c " style="left:755.40px;width:67.00px;top:563.90px">2:0:4</div>
<div class="c " style="left:0.00px;width:78.00px;top:592.80px">25124</div>
<div class="c " style="left:80.00px;width:28.50px;top:592.80px">2</div>
<div class="c " style="left:140.55px;width:30.18px;top:592.80px">61</div>
<div class="c " style="left:170.73px;width:30.18px;top:592.80px">9</div>
<div class="c " style="left:200.91px;width:30.18px;top:592.80px">6</div>
<div class="c " style="left:231.09px;width:30.18px;top:592.80px">18</div>
<div class="c " style="left:261.27px;width:30.18px;top:592.80px">23</div>
<div class="c " style="left:291.45px;width:30.18px;top:592.80px">36</div>
<div class="c " style="left:321.63px;width:30.18px;top:592.80px">4</div>
<div class="c " style="left:351.81px;width:30.18px;top:592.80px">3</div>
<div class="c " style="left:381.99px;width:30.18px;top:592.80px">8</div>
<div class="c " style="left:412.17px;width:30.18px;top:592.80px">1</div>
<div class="c " style="left:442.35px;width:30.18px;top:592.80px">5</div>
<div class="c " style="left:472.53px;width:30.18px;top:592.80px">13</div>
<div class="c " style="left:532.89px;width:30.18px;top:592.80px">25</div>
<div class="c " style="left:563.07px;width:30.18px;top:592.80px">28</div>
<div class="c " style="left:593.25px;width:30.18px;top:592.80px">11</div>
<div class="c " style="left:625.00px;width:63.20px;top:592.80px">94</div>
<div class="c " style="left:690.20px;width:63.00px;top:592.80px">32</div>
<div class="c " style="left:755.40px;width:67.00px;top:592.80px">2:3:1</div>
<div class="c " style="left:0.00px;width:78.00px;top:621.70px">25125</div>
<div class="c " style="left:80.00px;width:28.50px;top:621.70px">4</div>
<div class="c r" style="left:110.50px;width:28.70px;top:621.70px">1</div>
<div class="c " style="left:140.55px;width:30.18px;top:621.70px">62</div>
<div class="c " style="left:170.73px;width:30.18px;top:621.70px">10</div>
<div class="c " style="left:200.91px;width:30.18px;top:621.70px">7</div>
<div class="c " style="left:231.09px;width:30.18px;top:621.70px">19</div>
<div class="c " style="left:261.27px;width:30.18px;top:621.70px">24</div>
<div class="c " style="left:291.45px;width:30.18px;top:621.70px">37</div>
<div class="c " style="left:321.63px;width:30.18px;top:621.70px">5</div>
<div class="c " style="left:351.81px;width:30.18px;top:621.70px">4</div>
<div class="c " style="left:412.17px;width:30.18px;top:621.70px">2</div>
<div class="c " style="left:442.35px;width:30.18px;top:621.70px">6</div>
<div class="c " style="left:472.53px;width:30.18px;top:621.70px">14</div>
<div class="c " style="left:502.71px;width:30.18px;top:621.70px">1</div>
<div class="c " style="left:532.89px;width:30.18px;top:621.70px">26</div>
<div class="c " style="left:563.07px;width:30.18px;top:621.70px">29</div>
<div class="c " style="left:593.25px;width:30.18px;top:621.70px">12</div>
<div class="c " style="left:625.00px;width:63.20px;top:621.70px">95</div>
<div class="c " style="left:690.20px;width:63.00px;top:621.70px">29</div>
<div class="abs" style="left:755.2px;top:621.70px;width:50px;height:28.90px;background:#d6a4a6;"></div>
<div class="c" style="color:#fff;left:755.40px;width:67.00px;top:621.70px">2:2:2</div>
<div class="c " style="left:0.00px;width:78.00px;top:650.60px">25126</div>
<div class="c " style="left:80.00px;width:28.50px;top:650.60px">7</div>
<div class="c r" style="left:110.50px;width:28.70px;top:650.60px">2</div>
<div class="c " style="left:140.55px;width:30.18px;top:650.60px">63</div>
<div class="c " style="left:170.73px;width:30.18px;top:650.60px">11</div>
<div class="c " style="left:200.91px;width:30.18px;top:650.60px">8</div>
<div class="c " style="left:231.09px;width:30.18px;top:650.60px">20</div>
<div class="c " style="left:261.27px;width:30.18px;top:650.60px">25</div>
<div class="c " style="left:291.45px;width:30.18px;top:650.60px">38</div>
<div class="c " style="left:321.63px;width:30.18px;top:650.60px">6</div>
<div class="c " style="left:351.81px;width:30.18px;top:650.60px">5</div>
<div class="c " style="left:381.99px;width:30.18px;top:650.60px">1</div>
<div class="c " style="left:442.35px;width:30.18px;top:650.60px">7</div>
<div class="c " style="left:472.53px;width:30.18px;top:650.60px">15</div>
<div class="c " style="left:502.71px;width:30.18px;top:650.60px">2</div>
<div class="c " style="left:532.89px;width:30.18px;top:650.60px">27</div>
<div class="c " style="left:563.07px;width:30.18px;top:650.60px">30</div>
<div class="c " style="left:593.25px;width:30.18px;top:650.60px">13</div>
<div class="c " style="left:625.00px;width:63.20px;top:650.60px">87</div>
<div class="c " style="left:690.20px;width:63.00px;top:650.60px">23</div>
<div class="c " style="left:755.40px;width:67.00px;top:650.60px">1:4:1</div>
<div class="c " style="left:0.00px;width:78.00px;top:679.50px">25127</div>
<div class="c " style="left:80.00px;width:28.50px;top:679.50px">2</div>
<div class="c r" style="left:110.50px;width:28.70px;top:679.50px">3</div>
<div class="c " style="left:140.55px;width:30.18px;top:679.50px">64</div>
<div class="c " style="left:170.73px;width:30.18px;top:679.50px">12</div>
<div class="c " style="left:231.09px;width:30.18px;top:679.50px">21</div>
<div class="c " style="left:261.27px;width:30.18px;top:679.50px">26</div>
<div class="c " style="left:291.45px;width:30.18px;top:679.50px">39</div>
<div class="c " style="left:321.63px;width:30.18px;top:679.50px">7</div>
<div class="c " style="left:351.81px;width:30.18px;top:679.50px">6</div>
<div class="c " style="left:381.99px;width:30.18px;top:679.50px">2</div>
<div class="c " style="left:412.17px;width:30.18px;top:679.50px">1</div>
<div class="c " style="left:442.35px;width:30.18px;top:679.50px">8</div>
<div class="c " style="left:472.53px;width:30.18px;top:679.50px">16</div>
<div class="c " style="left:502.71px;width:30.18px;top:679.50px">3</div>
<div class="c " style="left:532.89px;width:30.18px;top:679.50px">28</div>
<div class="c " style="left:563.07px;width:30.18px;top:679.50px">31</div>
<div class="c " style="left:593.25px;width:30.18px;top:679.50px">14</div>
<div class="c " style="left:625.00px;width:63.20px;top:679.50px">91</div>
<div class="c " style="left:690.20px;width:63.00px;top:679.50px">25</div>
<div class="c " style="left:755.40px;width:67.00px;top:679.50px">2:3:1</div>
<div class="hl" style="top:130.40px"></div>
<div class="hl" style="top:274.90px"></div>
<div class="hl" style="top:419.40px"></div>
<div class="hl" style="top:563.90px"></div>
<div class="abs" style="left:25.6px;top:712.60px;width:17px;height:17px;border:1.4px solid #fb9a9a;border-radius:50%;"></div>
<div class="c sel" style="left:52px;width:31px;top:708.05px;font-size:15.5px">选号</div>
<div class="c sel" style="left:140.55px;width:30.18px;top:708.05px">01</div>
<div class="c sel" style="left:200.91px;width:30.18px;top:708.05px">03</div>
<div class="c sel" style="left:231.09px;width:30.18px;top:708.05px">04</div>
<div class="c sel" style="left:291.45px;width:30.18px;top:708.05px">06</div>
<div class="c sel" style="left:321.63px;width:30.18px;top:708.05px">07</div>
<div class="c sel" style="left:381.99px;width:30.18px;top:708.05px">09</div>
<div class="c sel" style="left:412.17px;width:30.18px;top:708.05px">10</div>
<div class="c sel" style="left:472.53px;width:30.18px;top:708.05px">12</div>
<div class="c sel" style="left:563.07px;width:30.18px;top:708.05px">15</div>
<div class="c sel" style="left:593.25px;width:30.18px;top:708.05px">16</div>
<div class="abs" style="left:25.6px;top:740.80px;width:17px;height:17px;border:1.4px solid #fb9a9a;border-radius:50%;"></div>
<div class="c sel" style="left:52px;width:31px;top:736.25px;font-size:15.5px">选号</div>
<div class="c sel" style="left:110.50px;width:28.70px;top:736.25px">33</div>
<div class="c sel" style="left:140.55px;width:30.18px;top:736.25px">01</div>
<div class="c sel" style="left:170.73px;width:30.18px;top:736.25px">02</div>
<div class="c sel" style="left:200.91px;width:30.18px;top:736.25px">03</div>
<div class="c sel" style="left:231.09px;width:30.18px;top:736.25px">04</div>
<div class="c sel" style="left:261.27px;width:30.18px;top:736.25px">05</div>
<div class="c sel" style="left:291.45px;width:30.18px;top:736.25px">06</div>
<div class="c sel" style="left:321.63px;width:30.18px;top:736.25px">07</div>
<div class="c sel" style="left:351.81px;width:30.18px;top:736.25px">08</div>
<div class="c sel" style="left:381.99px;width:30.18px;top:736.25px">09</div>
<div class="c sel" style="left:412.17px;width:30.18px;top:736.25px">10</div>
<div class="c sel" style="left:442.35px;width:30.18px;top:736.25px">11</div>
<div class="c sel" style="left:472.53px;width:30.18px;top:736.25px">12</div>
<div class="c sel" style="left:502.71px;width:30.18px;top:736.25px">13</div>
<div class="c sel" style="left:532.89px;width:30.18px;top:736.25px">14</div>
<div class="c sel" style="left:563.07px;width:30.18px;top:736.25px">15</div>
<div class="c sel" style="left:593.25px;width:30.18px;top:736.25px">16</div>
<svg class="abs" style="left:0;top:0" width="800" height="766" viewBox="0 134 800 766">
<path d="M608.3 163.2 L366.9 192.1 L246.2 221.0 L517.8 249.9 L336.7 278.8 L216.0 307.7 L366.9 336.6 L487.6 365.5 L185.8 394.4 L608.3 423.3 L427.3 452.2 L185.8 481.1 L397.1 510.0 L427.3 539.0 L216.0 567.9 L457.4 596.8 L336.7 625.7 L366.9 654.5 L517.8 683.5 L427.3 712.3 L517.8 741.2 L397.1 770.2 L427.3 799.0 L216.0 828.0" fill="none" stroke="#5b7fcd" stroke-width="2.6" stroke-linejoin="round" stroke-linecap="round"/>
</svg>
<div class="ball bb" style="left:354.90px;top:46.15px"><span>08</span></div>
<div class="ball bb" style="left:234.18px;top:75.05px"><span>04</span></div>
<div class="ball rb" style="left:113.00px;top:103.95px"><span>33</span></div>
<div class="ball bb" style="left:505.80px;top:103.95px"><span>13</span></div>
<div class="ball rb" style="left:113.00px;top:132.85px"><span>33</span></div>
<div class="ball bb" style="left:324.72px;top:132.85px"><span>07</span></div>
<div class="ball bb" style="left:204.00px;top:161.75px"><span>03</span></div>
<div class="ball bb" style="left:354.90px;top:190.65px"><span>08</span></div>
<div class="ball rb" style="left:113.00px;top:219.55px"><span>33</span></div>
<div class="ball bb" style="left:475.62px;top:219.55px"><span>12</span></div>
<div class="ball bb" style="left:173.82px;top:248.45px"><span>02</span></div>
<div class="ball bb" style="left:596.34px;top:277.35px"><span>16</span></div>
<div class="ball bb" style="left:415.26px;top:306.25px"><span>10</span></div>
<div class="ball bb" style="left:173.82px;top:335.15px"><span>02</span></div>
<div class="ball bb" style="left:385.08px;top:364.05px"><span>09</span></div>
<div class="ball rb" style="left:113.00px;top:392.95px"><span>33</span></div>
<div class="ball bb" style="left:415.26px;top:392.95px"><span>10</span></div>
<div class="ball bb" style="left:204.00px;top:421.85px"><span>03</span></div>
<div class="ball bb" style="left:445.44px;top:450.75px"><span>11</span></div>
<div class="ball bb" style="left:324.72px;top:479.65px"><span>07</span></div>
<div class="ball bb" style="left:354.90px;top:508.55px"><span>08</span></div>
<div class="ball bb" style="left:505.80px;top:537.45px"><span>13</span></div>
<div class="ball bb" style="left:415.26px;top:566.35px"><span>10</span></div>
<div class="ball rb" style="left:113.00px;top:595.25px"><span>33</span></div>
<div class="ball bb" style="left:505.80px;top:595.25px"><span>13</span></div>
<div class="ball bb" style="left:385.08px;top:624.15px"><span>09</span></div>
<div class="ball bb" style="left:415.26px;top:653.05px"><span>10</span></div>
<div class="ball bb" style="left:204.00px;top:681.95px"><span>03</span></div>
<div class="ball rb" style="left:113.00px;top:710.50px"><span>33</span></div>
<div class="ball bb" style="left:173.82px;top:710.50px"><span>02</span></div>
<div class="ball bb" style="left:264.36px;top:710.50px"><span>05</span></div>
<div class="ball bb" style="left:354.90px;top:710.50px"><span>08</span></div>
<div class="ball bb" style="left:445.44px;top:710.50px"><span>11</span></div>
<div class="ball bb" style="left:505.80px;top:710.50px"><span>13</span></div>
<div class="ball bb" style="left:535.98px;top:710.50px"><span>14</span></div>
<svg class="abs" style="left:0;top:0" width="800" height="766" viewBox="0 134 800 766">
<g fill="none" stroke="#1565c8" stroke-width="2.4" stroke-linecap="butt">
<path d="M110.5 532.4 L124.8 538.4 L110.5 541.2"/>
<path d="M110.5 741.4 L143 746.2"/>
<path d="M110.5 755.8 L122.4 743.4"/>
</g>
<path d="M427.3 539.0 L281.7 845.3" stroke="#ff4081" stroke-width="2.4" fill="none" stroke-linecap="round"/>
<path d="M276.4 856.5 L273.7 833.1 L281.7 845.3 L296.1 843.8 Z" fill="#ff4081"/>
<path d="M357.0 631.0 L540.0 847.0" stroke="#ff4081" stroke-width="2.4" fill="none" stroke-linecap="round"/>
<path d="M548.0 856.5 L525.6 849.3 L540.0 847.0 L544.5 833.2 Z" fill="#ff4081"/>
<path d="M517.8 683.5 L517.8 844.1" stroke="#ff4081" stroke-width="2.4" fill="none" stroke-linecap="round"/>
<path d="M517.8 856.5 L505.4 836.5 L517.8 844.1 L530.2 836.5 Z" fill="#ff4081"/>
<path d="M517.8 741.2 L376.8 849.0" stroke="#ff4081" stroke-width="2.4" fill="none" stroke-linecap="round"/>
<path d="M366.9 856.5 L375.3 834.5 L376.8 849.0 L390.3 854.2 Z" fill="#ff4081"/>
<path d="M415.5 766.0 L452.2 845.2" stroke="#ff4081" stroke-width="2.4" fill="none" stroke-linecap="round"/>
<path d="M457.4 856.5 L437.8 843.6 L452.2 845.2 L460.3 833.1 Z" fill="#ff4081"/>
<path d="M216.0 828.0 L192.2 850.5" stroke="#ff4081" stroke-width="2.4" fill="none" stroke-linecap="round"/>
<path d="M185.8 856.5 L190.1 840.4 L192.2 850.5 L202.1 853.2 Z" fill="#ff4081"/>
</svg>
<div class="hd" style="left:0;top:-0.2px;width:800px;height:51.95px;"></div>
<div class="abs" style="left:110.5px;top:25.6px;width:512.5px;height:1px;background:#cfcfcf;"></div>
<div class="tl" style="left:170.23px;top:26.4px;height:25.35px;background:#cfcfcf"></div>
<div class="tl" style="left:200.41px;top:26.4px;height:25.35px;background:#cfcfcf"></div>
<div class="tl" style="left:230.59px;top:26.4px;height:25.35px;background:#cfcfcf"></div>
<div class="tl" style="left:260.77px;top:26.4px;height:25.35px;background:#cfcfcf"></div>
<div class="tl" style="left:290.95px;top:26.4px;height:25.35px;background:#cfcfcf"></div>
<div class="tl" style="left:321.13px;top:26.4px;height:25.35px;background:#cfcfcf"></div>
<div class="tl" style="left:351.31px;top:26.4px;height:25.35px;background:#cfcfcf"></div>
<div class="tl" style="left:381.49px;top:26.4px;height:25.35px;background:#cfcfcf"></div>
<div class="tl" style="left:411.67px;top:26.4px;height:25.35px;background:#cfcfcf"></div>
<div class="tl" style="left:441.85px;top:26.4px;height:25.35px;background:#cfcfcf"></div>
<div class="tl" style="left:472.03px;top:26.4px;height:25.35px;background:#cfcfcf"></div>
<div class="tl" style="left:502.21px;top:26.4px;height:25.35px;background:#cfcfcf"></div>
<div class="tl" style="left:532.39px;top:26.4px;height:25.35px;background:#cfcfcf"></div>
<div class="tl" style="left:562.57px;top:26.4px;height:25.35px;background:#cfcfcf"></div>
<div class="tl" style="left:592.75px;top:26.4px;height:25.35px;background:#cfcfcf"></div>
<div class="vl" style="left:77.5px;top:-0.2px;height:51.95px;background:#bbb"></div>
<div class="vl" style="left:108.0px;top:-0.2px;height:51.95px;background:#bbb"></div>
<div class="vl" style="left:139.0px;top:-0.2px;height:51.95px;background:#bbb"></div>
<div class="vl" style="left:622.2px;top:-0.2px;height:51.95px;background:#bbb"></div>
<div class="vl" style="left:687.4px;top:-0.2px;height:51.95px;background:#bbb"></div>
<div class="vl" style="left:752.8px;top:-0.2px;height:51.95px;background:#bbb"></div>
<div class="hc hz" style="left:80px;width:28.5px;top:2.6px;line-height:24px;height:48px;white-space:normal;">星<br>期</div>
<div class="hc" style="left:110.5px;width:28.7px;top:26.6px">33</div>
<div class="hc hz" style="left:141px;width:482px;top:0.6px">蓝球</div>
<div class="hc" style="left:140.55px;width:30.18px;top:26.6px">01</div>
<div class="hc" style="left:170.73px;width:30.18px;top:26.6px">02</div>
<div class="hc" style="left:200.91px;width:30.18px;top:26.6px">03</div>
<div class="hc" style="left:231.09px;width:30.18px;top:26.6px">04</div>
<div class="hc" style="left:261.27px;width:30.18px;top:26.6px">05</div>
<div class="hc" style="left:291.45px;width:30.18px;top:26.6px">06</div>
<div class="hc" style="left:321.63px;width:30.18px;top:26.6px">07</div>
<div class="hc" style="left:351.81px;width:30.18px;top:26.6px">08</div>
<div class="hc" style="left:381.99px;width:30.18px;top:26.6px">09</div>
<div class="hc" style="left:412.17px;width:30.18px;top:26.6px">10</div>
<div class="hc" style="left:442.35px;width:30.18px;top:26.6px">11</div>
<div class="hc" style="left:472.53px;width:30.18px;top:26.6px">12</div>
<div class="hc" style="left:502.71px;width:30.18px;top:26.6px">13</div>
<div class="hc" style="left:532.89px;width:30.18px;top:26.6px">14</div>
<div class="hc" style="left:563.07px;width:30.18px;top:26.6px">15</div>
<div class="hc" style="left:593.25px;width:30.18px;top:26.6px">16</div>
<div class="hc hz" style="left:625px;width:63.2px;top:12.2px">和值</div>
<div class="hc hz" style="left:690.2px;width:63px;top:12.2px">跨度</div>
<div class="hc hz" style="left:755.2px;width:65.6px;top:12.2px">区间比</div>
<div class="hc hz" style="left:23.4px;width:34px;top:13.6px">期次</div>
<svg class="abs" style="left:56px;top:16px" width="12" height="20" viewBox="0 0 12 20"><path d="M2.2 8.4 L5.9 2.7 L9.6 8.4 Z" fill="#f40d0d"/><path d="M2.2 11 L9.6 11 L5.9 17.8 Z" fill="#6a6a6a"/></svg>
</div>
<div class="abs" style="left:0;top:900px;width:800px;height:47.4px;background:#fff;"></div>
<div class="pill" style="left:31.5px;top:906px;width:78.0px">添加预选</div>
<div class="pill" style="left:174.6px;top:906px;width:57.2px">删除</div>
<div class="pill" style="left:295.8px;top:906px;width:58.4px">上移</div>
<div class="pill" style="left:418.0px;top:906px;width:58.4px">下移</div>
<div class="pill" style="left:540.8px;top:906px;width:58.4px">画布+</div>
<div class="pill" style="left:663.2px;top:906px;width:58.2px">清空</div>
<div class="pill" style="left:752.8px;top:906px;width:49px;background:#c9c9c9;color:#fff;font-size:16px;">收起</div>
<div class="abs" style="left:0;top:946.9px;width:800px;height:91.2px;overflow:hidden;">
<div class="abs" style="left:0;top:52.8px;width:800px;height:28.1px;background:#f2f2f7;"></div>
<div class="abs" style="left:0;top:80.9px;width:800px;height:12px;background:#f5f5f5;"></div>
<div class="tl" style="left:170.23px;top:51px;height:40px"></div>
<div class="tl" style="left:200.41px;top:51px;height:40px"></div>
<div class="tl" style="left:230.59px;top:51px;height:40px"></div>
<div class="tl" style="left:260.77px;top:51px;height:40px"></div>
<div class="tl" style="left:290.95px;top:51px;height:40px"></div>
<div class="tl" style="left:321.13px;top:51px;height:40px"></div>
<div class="tl" style="left:351.31px;top:51px;height:40px"></div>
<div class="tl" style="left:381.49px;top:51px;height:40px"></div>
<div class="tl" style="left:411.67px;top:51px;height:40px"></div>
<div class="tl" style="left:441.85px;top:51px;height:40px"></div>
<div class="tl" style="left:472.03px;top:51px;height:40px"></div>
<div class="tl" style="left:502.21px;top:51px;height:40px"></div>
<div class="tl" style="left:532.39px;top:51px;height:40px"></div>
<div class="tl" style="left:562.57px;top:51px;height:40px"></div>
<div class="tl" style="left:592.75px;top:51px;height:40px"></div>
<div class="vl" style="left:77.5px;top:51px;height:40px"></div>
<div class="vl" style="left:108.0px;top:51px;height:40px"></div>
<div class="vl" style="left:139.0px;top:51px;height:40px"></div>
<div class="vl" style="left:622.2px;top:51px;height:40px"></div>
<div class="vl" style="left:687.4px;top:51px;height:40px"></div>
<div class="vl" style="left:752.8px;top:51px;height:40px"></div>
<div class="hd" style="left:0;top:0.0px;width:800px;height:52.85px;"></div>
<div class="abs" style="left:110.5px;top:25.8px;width:512.5px;height:1px;background:#cfcfcf;"></div>
<div class="tl" style="left:170.23px;top:26.6px;height:26.25px;background:#cfcfcf"></div>
<div class="tl" style="left:200.41px;top:26.6px;height:26.25px;background:#cfcfcf"></div>
<div class="tl" style="left:230.59px;top:26.6px;height:26.25px;background:#cfcfcf"></div>
<div class="tl" style="left:260.77px;top:26.6px;height:26.25px;background:#cfcfcf"></div>
<div class="tl" style="left:290.95px;top:26.6px;height:26.25px;background:#cfcfcf"></div>
<div class="tl" style="left:321.13px;top:26.6px;height:26.25px;background:#cfcfcf"></div>
<div class="tl" style="left:351.31px;top:26.6px;height:26.25px;background:#cfcfcf"></div>
<div class="tl" style="left:381.49px;top:26.6px;height:26.25px;background:#cfcfcf"></div>
<div class="tl" style="left:411.67px;top:26.6px;height:26.25px;background:#cfcfcf"></div>
<div class="tl" style="left:441.85px;top:26.6px;height:26.25px;background:#cfcfcf"></div>
<div class="tl" style="left:472.03px;top:26.6px;height:26.25px;background:#cfcfcf"></div>
<div class="tl" style="left:502.21px;top:26.6px;height:26.25px;background:#cfcfcf"></div>
<div class="tl" style="left:532.39px;top:26.6px;height:26.25px;background:#cfcfcf"></div>
<div class="tl" style="left:562.57px;top:26.6px;height:26.25px;background:#cfcfcf"></div>
<div class="tl" style="left:592.75px;top:26.6px;height:26.25px;background:#cfcfcf"></div>
<div class="vl" style="left:77.5px;top:0.0px;height:52.85px;background:#bbb"></div>
<div class="vl" style="left:108.0px;top:0.0px;height:52.85px;background:#bbb"></div>
<div class="vl" style="left:139.0px;top:0.0px;height:52.85px;background:#bbb"></div>
<div class="vl" style="left:622.2px;top:0.0px;height:52.85px;background:#bbb"></div>
<div class="vl" style="left:687.4px;top:0.0px;height:52.85px;background:#bbb"></div>
<div class="vl" style="left:752.8px;top:0.0px;height:52.85px;background:#bbb"></div>
<div class="hc hz" style="left:80px;width:28.5px;top:2.8px;line-height:24px;height:48px;white-space:normal;">星<br>期</div>
<div class="hc" style="left:110.5px;width:28.7px;top:27.2px">33</div>
<div class="hc hz" style="left:141px;width:482px;top:0.8px">蓝球</div>
<div class="hc" style="left:140.55px;width:30.18px;top:27.2px">01</div>
<div class="hc" style="left:170.73px;width:30.18px;top:27.2px">02</div>
<div class="hc" style="left:200.91px;width:30.18px;top:27.2px">03</div>
<div class="hc" style="left:231.09px;width:30.18px;top:27.2px">04</div>
<div class="hc" style="left:261.27px;width:30.18px;top:27.2px">05</div>
<div class="hc" style="left:291.45px;width:30.18px;top:27.2px">06</div>
<div class="hc" style="left:321.63px;width:30.18px;top:27.2px">07</div>
<div class="hc" style="left:351.81px;width:30.18px;top:27.2px">08</div>
<div class="hc" style="left:381.99px;width:30.18px;top:27.2px">09</div>
<div class="hc" style="left:412.17px;width:30.18px;top:27.2px">10</div>
<div class="hc" style="left:442.35px;width:30.18px;top:27.2px">11</div>
<div class="hc" style="left:472.53px;width:30.18px;top:27.2px">12</div>
<div class="hc" style="left:502.71px;width:30.18px;top:27.2px">13</div>
<div class="hc" style="left:532.89px;width:30.18px;top:27.2px">14</div>
<div class="hc" style="left:563.07px;width:30.18px;top:27.2px">15</div>
<div class="hc" style="left:593.25px;width:30.18px;top:27.2px">16</div>
<div class="hc hz" style="left:625px;width:63.2px;top:12.4px">和值</div>
<div class="hc hz" style="left:690.2px;width:63px;top:12.4px">跨度</div>
<div class="hc hz" style="left:755.2px;width:65.6px;top:12.4px">区间比</div>
<div class="hc" style="left:0;width:78px;top:12.8px">-</div>
<div class="c st" style="left:0;width:78px;top:52.5px;font-size:15.3px">出现次数</div>
<div class="c st" style="left:80px;width:28.5px;top:52.5px">-</div>
<div class="c st" style="left:110.5px;width:28.7px;top:52.5px">5</div>
<div class="c st" style="left:140.55px;width:30.18px;top:52.5px">0</div>
<div class="c st" style="left:170.73px;width:30.18px;top:52.5px">3</div>
<div class="c st" style="left:200.91px;width:30.18px;top:52.5px">3</div>
<div class="c st" style="left:231.09px;width:30.18px;top:52.5px">1</div>
<div class="c st" style="left:261.27px;width:30.18px;top:52.5px">1</div>
<div class="c st" style="left:291.45px;width:30.18px;top:52.5px">0</div>
<div class="c st" style="left:321.63px;width:30.18px;top:52.5px">3</div>
<div class="c st" style="left:351.81px;width:30.18px;top:52.5px">3</div>
<div class="c st" style="left:381.99px;width:30.18px;top:52.5px">2</div>
<div class="c st" style="left:412.17px;width:30.18px;top:52.5px">4</div>
<div class="c st" style="left:442.35px;width:30.18px;top:52.5px">1</div>
<div class="c st" style="left:472.53px;width:30.18px;top:52.5px">1</div>
<div class="c st" style="left:502.71px;width:30.18px;top:52.5px">3</div>
<div class="c st" style="left:532.89px;width:30.18px;top:52.5px">1</div>
<div class="c st" style="left:563.07px;width:30.18px;top:52.5px">0</div>
<div class="c st" style="left:593.25px;width:30.18px;top:52.5px">4</div>
<div class="c st" style="left:625.0px;width:63.2px;top:52.5px">-</div>
<div class="c st" style="left:690.2px;width:63.0px;top:52.5px">-</div>
<div class="c st" style="left:755.2px;width:68.0px;top:52.5px">-</div>
<div class="c st" style="left:0;width:78px;top:81.6px;font-size:15.3px">平均遗漏</div>
<div class="c st" style="left:80px;width:28.5px;top:81.6px">-</div>
<div class="c st" style="left:110.5px;width:28.7px;top:81.6px">7</div>
<div class="c st" style="left:140.55px;width:30.18px;top:81.6px">14</div>
<div class="c st" style="left:170.73px;width:30.18px;top:81.6px">9</div>
<div class="c st" style="left:200.91px;width:30.18px;top:81.6px">23</div>
<div class="c st" style="left:231.09px;width:30.18px;top:81.6px">21</div>
<div class="c st" style="left:261.27px;width:30.18px;top:81.6px">27</div>
<div class="c st" style="left:291.45px;width:30.18px;top:81.6px">30</div>
<div class="c st" style="left:321.63px;width:30.18px;top:81.6px">10</div>
<div class="c st" style="left:351.81px;width:30.18px;top:81.6px">10</div>
<div class="c st" style="left:381.99px;width:30.18px;top:81.6px">18</div>
<div class="c st" style="left:412.17px;width:30.18px;top:81.6px">8</div>
<div class="c st" style="left:442.35px;width:30.18px;top:81.6px">14</div>
<div class="c st" style="left:472.53px;width:30.18px;top:81.6px">24</div>
<div class="c st" style="left:502.71px;width:30.18px;top:81.6px">19</div>
<div class="c st" style="left:532.89px;width:30.18px;top:81.6px">23</div>
<div class="c st" style="left:563.07px;width:30.18px;top:81.6px">31</div>
<div class="c st" style="left:593.25px;width:30.18px;top:81.6px">7</div>
<div class="c st" style="left:625.0px;width:63.2px;top:81.6px">-</div>
<div class="c st" style="left:690.2px;width:63.0px;top:81.6px">-</div>
<div class="c st" style="left:755.2px;width:68.0px;top:81.6px">-</div>
</div>
<div class="abs" style="left:0;top:1038px;width:800px;height:179px;background:#fff;"></div>
<div class="tool" style="left:13.1px;border-color:#fb9c9c;"></div>
<div class="tool" style="left:105.4px;"></div>
<div class="tool" style="left:198.3px;"></div>
<div class="tool" style="left:290.3px;"></div>
<div class="tool" style="left:382.0px;"></div>
<div class="tool" style="left:474.2px;"></div>
<svg class="abs" style="left:0;top:1038px" width="800" height="58" viewBox="0 1038 800 58">
<g fill="none" stroke="#333" stroke-width="1.6" stroke-linecap="round" stroke-linejoin="round">
<path d="M40.4 1075.2 L22.6 1058.2 M33.6 1058.2 L22.6 1058.2 L22.6 1069.6"/>
<path d="M115.8 1074.2 L131.4 1058.4"/>
<path d="M219.5 1058 C215 1060.5 209.5 1063.5 210.3 1066 C211.2 1068.6 221.5 1064 222.8 1067 C223.8 1069.6 217.5 1073.4 213 1075.8"/>
<rect x="299" y="1059" width="18.4" height="15.2" stroke-linejoin="miter"/>
<circle cx="400.4" cy="1066.6" r="10.1"/>
<path d="M484 1058 L501.2 1058 M492.6 1058 L492.6 1075.2"/>
<path d="M581 1058.5 L575.75 1064 L581 1069.5 M575.75 1064 L587 1064 C591.5 1064 594 1067 594.25 1074"/>
<path d="M678.4 1057.6 Q679.5 1056.5 680.6 1057.6 L686.4 1062.6 Q687.4 1063.6 686.4 1064.6 L675.6 1075.1 L673.4 1075.1 Q672.6 1075.1 672 1074.4 L667.4 1070 Q666.4 1069 667.4 1068 Z M670.8 1065.2 L677.6 1071.8 M674 1075.1 L686 1075.1"/>
<path stroke-linejoin="miter" d="M767.5 1058 L771.5 1062 L776.25 1057.25 L778.75 1059.75 L774 1064.5 L778 1068.5 L770.5 1076 L760 1065.5 Z M764.75 1061.25 L774.5 1071 M762.9 1068.1 L764.6 1066.2 M766 1071.2 L767.7 1069.4 M769 1074.2 L770.5 1072.6"/>
</g>
<circle cx="115.8" cy="1074.2" r="1.7" fill="#333"/><circle cx="131.4" cy="1058.4" r="1.7" fill="#333"/>
<circle cx="219.5" cy="1058" r="1.5" fill="#333"/><circle cx="213" cy="1075.8" r="1.5" fill="#333"/>
</svg>
<div class="abs" style="left:0;top:1095.5px;width:800px;height:1px;background:#ececec;"></div>
<div class="abs" style="left:0;top:1152.5px;width:800px;height:1px;background:#ececec;"></div>
<div class="abs" style="left:19.6px;top:1106.2px;width:35px;height:35px;border-radius:50%;background:#ff4081;border:1.2px solid #444;"></div>
<div class="abs" style="left:74.7px;top:1111.4px;width:26px;height:26px;border-radius:50%;background:#ff7a00;"></div>
<div class="abs" style="left:124.7px;top:1111.4px;width:26px;height:26px;border-radius:50%;background:#0a5fc8;"></div>
<div class="abs" style="left:175.0px;top:1111.4px;width:26px;height:26px;border-radius:50%;background:#1cd093;"></div>
<div class="abs" style="left:224.4px;top:1111.4px;width:26px;height:26px;border-radius:50%;background:#9614f0;"></div>
<div class="t" style="left:671px;top:1117px;font-size:14px;color:#8a8a8a;text-align:left;">球心吸附</div>
<div class="abs" style="left:732.6px;top:1108.6px;width:55px;height:31px;border-radius:16px;background:#f8484e;"></div>
<div class="abs" style="left:759px;top:1111px;width:26.4px;height:26.4px;border-radius:50%;background:#fff;"></div>
<div class="tab" style="left:69px;width:40px;color:#333;">30期</div>
<svg class="abs" style="left:114px;top:1178px" width="18" height="14" viewBox="0 0 18 14"><path d="M2.4 3.8 L8.6 10 L14.8 3.8" fill="none" stroke="#777" stroke-width="1.1" stroke-linecap="round" stroke-linejoin="round"/></svg>
<div class="tab" style="left:250px;width:100px;">关闭画线</div>
<div class="tab" style="left:450px;width:100px;">选号单(0)</div>
<div class="tab" style="left:650px;width:100px;">胆拖关注</div>
<div class="abs" style="left:0;top:1217px;width:800px;height:63px;background:#000;"></div>
<svg class="abs" style="left:0;top:1217px" width="800" height="63" viewBox="0 1217 800 63">
<g fill="none" stroke="#f2f2f2" stroke-width="2.2" stroke-linejoin="round">
<path d="M238.8 1239.6 L238.8 1257.4 L225.4 1248.5 Z"/>
<circle cx="400" cy="1248.4" r="8.6"/>
<rect x="560.6" y="1240.6" width="15.2" height="15.2" rx="1"/>
</g></svg>
<div class="abs" style="left:0;top:0;width:800px;height:1280px;overflow:hidden;pointer-events:none;">
<div class="wm" style="left:27.6px;top:105.8px"><i></i><b></b>彩虹多多</div>
<div class="wm" style="left:4.4px;top:296.3px"><i></i><b></b>彩虹多多</div>
<div class="wm" style="left:-18.9px;top:486.9px"><i></i><b></b>彩虹多多</div>
<div class="wm" style="left:-42.1px;top:677.4px"><i></i><b></b>彩虹多多</div>
<div class="wm" style="left:-65.4px;top:867.9px"><i></i><b></b>彩虹多多</div>
<div class="wm" style="left:-88.6px;top:1058.5px"><i></i><b></b>彩虹多多</div>
<div class="wm" style="left:228.3px;top:-9.5px"><i></i><b></b>彩虹多多</div>
<div class="wm" style="left:205.1px;top:181.1px"><i></i><b></b>彩虹多多</div>
<div class="wm" style="left:181.8px;top:371.6px"><i></i><b></b>彩虹多多</div>
<div class="wm" style="left:158.6px;top:562.1px"><i></i><b></b>彩虹多多</div>
<div class="wm" style="left:135.3px;top:752.7px"><i></i><b></b>彩虹多多</div>
<div class="wm" style="left:112.1px;top:943.2px"><i></i><b></b>彩虹多多</div>
<div class="wm" style="left:88.9px;top:1133.7px"><i></i><b></b>彩虹多多</div>
<div class="wm" style="left:405.8px;top:65.8px"><i></i><b></b>彩虹多多</div>
<div class="wm" style="left:382.5px;top:256.4px"><i></i><b></b>彩虹多多</div>
<div class="wm" style="left:359.3px;top:446.9px"><i></i><b></b>彩虹多多</div>
<div class="wm" style="left:336.0px;top:637.4px"><i></i><b></b>彩虹多多</div>
<div class="wm" style="left:312.8px;top:827.9px"><i></i><b></b>彩虹多多</div>
<div class="wm" style="left:289.6px;top:1018.5px"><i></i><b></b>彩虹多多</div>
<div class="wm" style="left:266.3px;top:1209.0px"><i></i><b></b>彩虹多多</div>
<div class="wm" style="left:583.2px;top:141.1px"><i></i><b></b>彩虹多多</div>
<div class="wm" style="left:560.0px;top:331.6px"><i></i><b></b>彩虹多多</div>
<div class="wm" style="left:536.7px;top:522.2px"><i></i><b></b>彩虹多多</div>
<div class="wm" style="left:513.5px;top:712.7px"><i></i><b></b>彩虹多多</div>
<div class="wm" style="left:490.3px;top:903.2px"><i></i><b></b>彩虹多多</div>
<div class="wm" style="left:467.0px;top:1093.8px"><i></i><b></b>彩虹多多</div>
<div class="wm" style="left:443.8px;top:1284.3px"><i></i><b></b>彩虹多多</div>
<div class="wm" style="left:783.9px;top:25.9px"><i></i><b></b>彩虹多多</div>
<div class="wm" style="left:760.7px;top:216.4px"><i></i><b></b>彩虹多多</div>
<div class="wm" style="left:737.4px;top:406.9px"><i></i><b></b>彩虹多多</div>
<div class="wm" style="left:714.2px;top:597.5px"><i></i><b></b>彩虹多多</div>
<div class="wm" style="left:691.0px;top:788.0px"><i></i><b></b>彩虹多多</div>
<div class="wm" style="left:667.7px;top:978.5px"><i></i><b></b>彩虹多多</div>
<div class="wm" style="left:644.5px;top:1169.0px"><i></i><b></b>彩虹多多</div>
</div>
</body></html>
